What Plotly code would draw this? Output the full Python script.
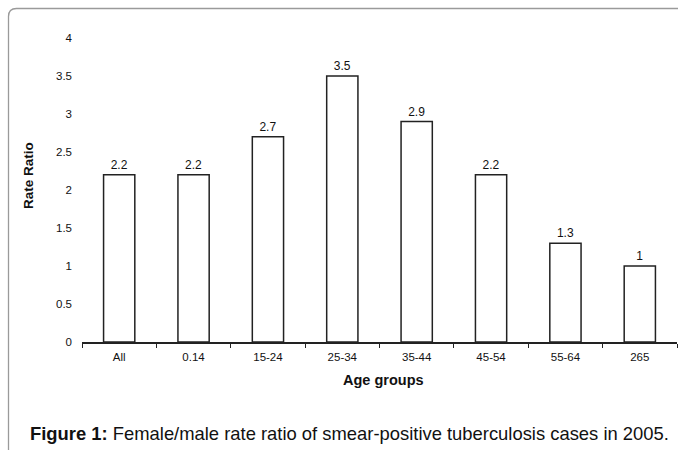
import plotly.graph_objects as go

categories = ["All", "0.14", "15-24", "25-34", "35-44", "45-54", "55-64", "265"]
rate_ratio = [2.2, 2.2, 2.7, 3.5, 2.9, 2.2, 1.3, 1]
value_labels = ["2.2", "2.2", "2.7", "3.5", "2.9", "2.2", "1.3", "1"]
y_ticks = [0, 0.5, 1, 1.5, 2, 2.5, 3, 3.5, 4]
y_tick_text = ["0", "0.5", "1", "1.5", "2", "2.5", "3", "3.5", "4"]

FONT = "Liberation Sans, Arial, sans-serif"

fig = go.Figure(go.Bar(
    x=categories, y=rate_ratio,
    text=value_labels, textposition="outside",
    textfont=dict(size=12, color="#111", family=FONT),
    marker=dict(color="white", line=dict(color="#222", width=1.5)),
    width=0.42, cliponaxis=False,
))

L, R, T, B = 82, 1, 38, 108
W, H = 678, 450
pw = W - L - R
ph = H - T - B

def px(x):
    return (x - L) / pw

def py(y):
    return (H - B - y) / ph

# frame with rounded top-left corner
x0, y0, r = 8.5, 8.5, 8
path = (f"M {px(x0)} {py(H)} L {px(x0)} {py(y0 + r)} "
        f"Q {px(x0)} {py(y0)} {px(x0 + r)} {py(y0)} L {px(W)} {py(y0)}")

fig.update_layout(
    width=W, height=H,
    margin=dict(l=L, r=R, t=T, b=B),
    plot_bgcolor="white", paper_bgcolor="white",
    font=dict(family=FONT, size=11.5, color="#111"),
    showlegend=False,
    xaxis=dict(
        type="category", showgrid=False, showline=True, linecolor="#222", linewidth=1.5,
        ticks="outside", tickson="boundaries", ticklen=4, tickcolor="#222", tickwidth=1.2,
        tickfont=dict(size=11.5, family=FONT), zeroline=False, ticklabelstandoff=3,
    ),
    yaxis=dict(
        range=[0, 4], tickvals=y_ticks, ticktext=y_tick_text, showgrid=False,
        showline=False, zeroline=False, ticks="", ticklabelstandoff=9,
        tickfont=dict(size=11.5, family=FONT),
    ),
    shapes=[dict(type="path", path=path, xref="paper", yref="paper",
                 line=dict(color="#9a9a9a", width=1.3), layer="above")],
    annotations=[
        dict(text="<b>Age groups</b>", x=px(383), y=py(380), xref="paper", yref="paper",
             xanchor="center", yanchor="middle", showarrow=False,
             font=dict(size=14.5, family=FONT, color="#111")),
        dict(text="<b>Rate Ratio</b>", x=px(28), y=py(176), xref="paper", yref="paper",
             xanchor="center", yanchor="middle", showarrow=False, textangle=-90,
             font=dict(size=13.5, family=FONT, color="#111")),
        dict(text="<b>Figure 1:</b> Female/male rate ratio of smear-positive tuberculosis cases in 2005.",
             x=px(28), y=py(433), xref="paper", yref="paper", xanchor="left", yanchor="middle",
             showarrow=False, font=dict(size=18.4, family=FONT, color="#111")),
    ],
)

fig.write_html("out.html", config={"displayModeBar": False},
               post_script="document.body.style.margin='0';")
